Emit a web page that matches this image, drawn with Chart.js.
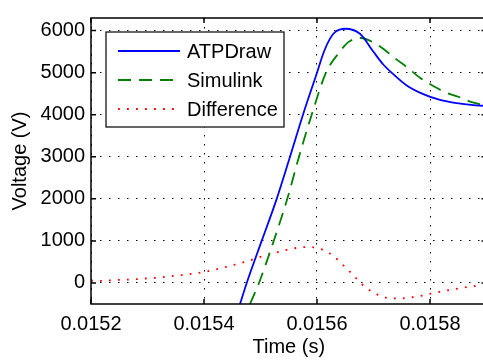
<!DOCTYPE html>
<html>
<head>
<meta charset="utf-8">
<script src="https://cdn.jsdelivr.net/npm/chart.js@4"></script>
<style>
  html, body { margin: 0; padding: 0; background: #fff; overflow: hidden; }
  #wrap { width: 490px; height: 360px; }
</style>
</head>
<body>
<div id="wrap"><canvas id="voltageChart"></canvas></div>
<script>
// axis ticks
const xTicks = [0.0152, 0.0154, 0.0156, 0.0158];
const yTicks = [0, 1000, 2000, 3000, 4000, 5000, 6000];

// ATPDraw result (s, V)
const atpTime = [0.0154637, 0.0154756, 0.0155021, 0.0155287, 0.0155522, 0.0155752, 0.0156000,
  0.0156124, 0.0156230, 0.0156319, 0.0156496, 0.0156761, 0.0156996, 0.0157173, 0.0157350,
  0.0157588, 0.0157881, 0.0158177, 0.0158473, 0.0158766, 0.0158938];
const atpVolt = [-500, 0, 1000, 2000, 3000, 4000, 5000,
  5503, 5810, 5963, 6044, 5925, 5503, 5195, 4965,
  4697, 4490, 4352, 4274, 4228, 4214];

// Simulink result (s, V)
const simTime = [0.0154814, 0.0154973, 0.0155234, 0.0155474, 0.0155681, 0.0155906, 0.0156159,
  0.0156407, 0.0156549, 0.0156773, 0.0157057, 0.0157234, 0.0157411, 0.0157588, 0.0157823,
  0.0158089, 0.0158296, 0.0158501, 0.0158708, 0.0158938];
const simVolt = [-500, 0, 1000, 2000, 3000, 4000, 5000,
  5503, 5720, 5825, 5671, 5503, 5310, 5135, 4880,
  4658, 4520, 4428, 4313, 4230];

// ATPDraw minus Simulink (s, V)
const diffTime = [0.0152000, 0.0152159, 0.0152336, 0.0152496, 0.0152655, 0.0152814, 0.0152973,
  0.0153198, 0.0153363, 0.0153522, 0.0153681, 0.0153835, 0.0153995, 0.0154154, 0.0154306,
  0.0154460, 0.0154619, 0.0154773, 0.0154933, 0.0155080, 0.0155239, 0.0155398, 0.0155545,
  0.0155704, 0.0155864, 0.0156030, 0.0156172, 0.0156306, 0.0156430, 0.0156549, 0.0156655,
  0.0156766, 0.0156885, 0.0157027, 0.0157173, 0.0157333, 0.0157487, 0.0157646, 0.0157805,
  0.0157965, 0.0158118, 0.0158278, 0.0158437, 0.0158596, 0.0158756, 0.0158915];
const diffVolt = [53, 50, 60, 75, 78, 92, 106,
  129, 152, 175, 198, 230, 260, 306, 352,
  405, 460, 520, 590, 652, 705, 767, 813,
  843, 859, 820, 744, 622, 467, 313, 168,
  7, -131, -246, -332, -368, -368, -345, -315,
  -269, -223, -184, -147, -108, -78, -46];

const FONT = { family: '"Liberation Sans", Arial, Helvetica, sans-serif', size: 20 };

function pairs(xs, ys) {
    return xs.map((x, i) => ({ x: x, y: ys[i] }));
}

// axes box with inward tick marks, drawn over the curves
const frame = {
    id: 'frame',
    afterDatasetsDraw(chart) {
        const { ctx, chartArea: a, scales } = chart;
        const len = 5;
        ctx.save();
        ctx.strokeStyle = '#000';
        ctx.lineWidth = 1.5;
        ctx.strokeRect(a.left, a.top, a.right - a.left, a.bottom - a.top);
        ctx.beginPath();
        xTicks.forEach(v => {
            const x = scales.x.getPixelForValue(v);
            ctx.moveTo(x, a.bottom); ctx.lineTo(x, a.bottom - len);
            ctx.moveTo(x, a.top); ctx.lineTo(x, a.top + len);
        });
        yTicks.forEach(v => {
            const y = scales.y.getPixelForValue(v);
            ctx.moveTo(a.left, y); ctx.lineTo(a.left + len, y);
            ctx.moveTo(a.right, y); ctx.lineTo(a.right - len, y);
        });
        ctx.stroke();
        ctx.restore();
    }
};

// boxed legend in the upper left of the plot
const boxLegend = {
    id: 'boxLegend',
    afterDraw(chart) {
        const ctx = chart.ctx;
        const a = chart.chartArea;
        const left = a.left + 15, top = a.top + 14, w = 178, h = 95;
        ctx.save();
        ctx.fillStyle = '#fff';
        ctx.fillRect(left, top, w, h);
        ctx.strokeStyle = '#000';
        ctx.lineWidth = 1.2;
        ctx.strokeRect(left, top, w, h);
        ctx.font = FONT.size + 'px ' + FONT.family;
        ctx.textBaseline = 'middle';
        chart.data.datasets.forEach((ds, i) => {
            const y = top + 19 + i * 29;
            ctx.beginPath();
            ctx.strokeStyle = ds.borderColor;
            ctx.lineWidth = ds.borderWidth;
            ctx.setLineDash(ds.borderDash || []);
            ctx.moveTo(left + 12, y);
            ctx.lineTo(left + 74, y);
            ctx.stroke();
            ctx.setLineDash([]);
            ctx.fillStyle = '#000';
            ctx.fillText(ds.label, left + 81, y + 1);
        });
        ctx.restore();
    }
};

const ctx = document.getElementById('voltageChart').getContext('2d');
new Chart(ctx, {
    type: 'line',
    data: {
        datasets: [
            {
                label: 'ATPDraw',
                data: pairs(atpTime, atpVolt),
                borderColor: '#0000ff',
                borderWidth: 1.8,
                pointRadius: 0,
                cubicInterpolationMode: 'monotone'
            },
            {
                label: 'Simulink',
                data: pairs(simTime, simVolt),
                borderColor: '#008000',
                borderWidth: 1.8,
                borderDash: [13, 8],
                pointRadius: 0,
                cubicInterpolationMode: 'monotone'
            },
            {
                label: 'Difference',
                data: pairs(diffTime, diffVolt),
                borderColor: '#ff0000',
                borderWidth: 1.8,
                borderDash: [1.8, 7.2],
                pointRadius: 0,
                cubicInterpolationMode: 'monotone'
            }
        ]
    },
    options: {
        responsive: true,
        maintainAspectRatio: false,
        animation: false,
        layout: { padding: { top: 9, right: 3.5, left: 0, bottom: 0 } },
        plugins: {
            legend: { display: false },
            tooltip: { enabled: false }
        },
        scales: {
            x: {
                type: 'linear',
                min: 0.0152,
                max: 0.0159,
                afterBuildTicks: scale => { scale.ticks = xTicks.map(v => ({ value: v })); },
                afterFit: scale => { scale.height = 56; },
                grid: { color: '#000', lineWidth: 1, drawTicks: false },
                border: { display: false, dash: [1.5, 7.5] },
                ticks: {
                    color: '#000',
                    font: FONT,
                    padding: 8,
                    maxRotation: 0,
                    callback: v => v.toFixed(4)
                },
                title: {
                    display: true,
                    text: 'Time (s)',
                    color: '#000',
                    font: FONT,
                    padding: { top: 0, bottom: 1 }
                }
            },
            y: {
                type: 'linear',
                min: -500,
                max: 6300,
                afterBuildTicks: scale => { scale.ticks = yTicks.map(v => ({ value: v })); },
                afterFit: scale => { scale.width = 91; },
                grid: { color: '#000', lineWidth: 1, drawTicks: false },
                border: { display: false, dash: [1.5, 7.5] },
                ticks: {
                    color: '#000',
                    font: FONT,
                    padding: 6,
                    callback: v => String(v)
                },
                title: {
                    display: true,
                    text: 'Voltage (V)',
                    color: '#000',
                    font: FONT,
                    padding: { top: 8, bottom: 0 }
                }
            }
        }
    },
    plugins: [frame, boxLegend]
});
</script>
</body>
</html>
